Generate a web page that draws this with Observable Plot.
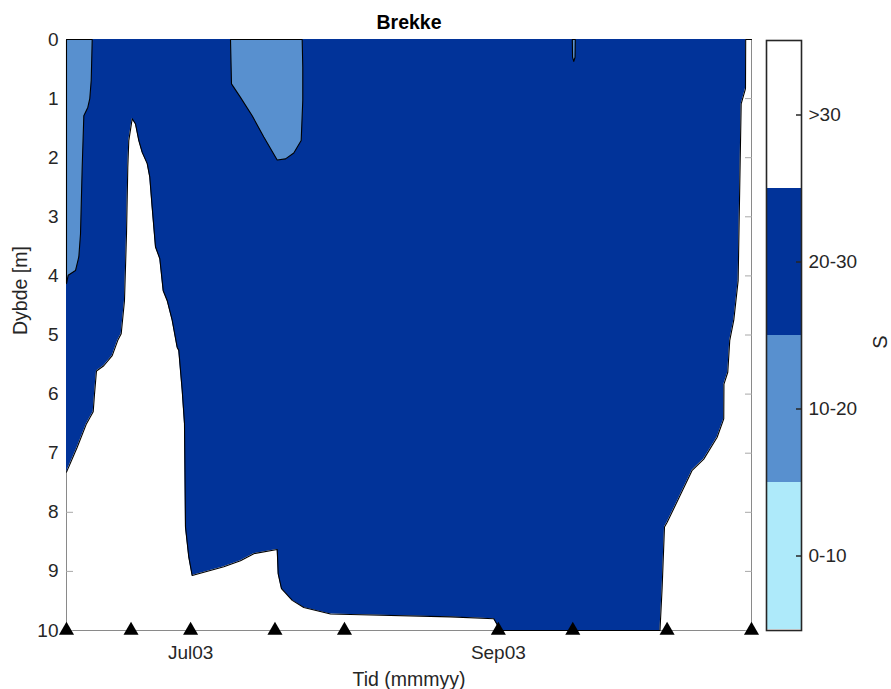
<!DOCTYPE html>
<html><head><meta charset="utf-8">
<script src="https://cdn.jsdelivr.net/npm/d3@7"></script>
<script src="https://cdn.jsdelivr.net/npm/@observablehq/plot@0.6"></script>
<style>
body{margin:0;background:#fff;overflow:hidden}
#wrap{position:relative;width:891px;height:689px}
#wrap svg{position:absolute;left:0;top:0;background:none}
</style></head><body><div id="wrap"></div>
<script>
// ---- data ----
const title = "Brekke";
const xLabel = "Tid (mmmyy)";
const yLabel = "Dybde [m]";
const cLabel = "S";
const startDate = "2003-06-06";          // day 0
const endDay = 138;                      // 2003-10-22
const sampleDays = [0, 13, 25, 42, 56, 87, 102, 121, 138];
const xTickDates = ["2003-07-01", "2003-09-01"];
const xTickLabels = ["Jul03", "Sep03"];
const depthTicks = [0, 1, 2, 3, 4, 5, 6, 7, 8, 9, 10];

// S = 30 isoline (lower edge of the 20-30 class), day vs depth
const iso30Day = [0, 2.16, 4.03, 5.38, 5.64, 6.04, 7.51, 9.21, 10.33, 11.02,
  11.68, 12.09, 12.35, 12.55, 13.24, 13.9, 14.57, 15.25, 16.26, 16.78,
  17.26, 17.93, 18.8, 19.48, 20.29, 21.29, 22.3, 22.62, 23.31, 23.77,
  23.97, 24.64, 25.32, 31.69, 35.05, 37.73, 42.45, 42.65, 43.31, 45.47,
  47.8, 53.18, 57.21, 77.36, 86.08, 87.43, 119.56, 120.0, 120.47, 121.01,
  126.05, 128.38, 131.08, 132.41, 132.45, 133.22, 133.62, 134.43, 135.31, 135.64,
  135.92, 136.79, 136.83, 138];
const iso30Depth = [7.32, 6.9, 6.5, 6.3, 6.0, 5.61, 5.52, 5.35, 5.09, 4.98,
  4.42, 3.29, 2.16, 1.71, 1.34, 1.43, 1.71, 1.91, 2.10, 2.33,
  2.84, 3.51, 3.71, 4.25, 4.42, 4.75, 5.21, 5.26, 5.94, 6.5,
  8.25, 8.76, 9.07, 8.92, 8.82, 8.70, 8.63, 9.04, 9.29, 9.49,
  9.61, 9.72, 9.73, 9.77, 9.80, 10, 10, 9.27, 8.25, 8.17,
  7.29, 7.1, 6.73, 6.42, 5.83, 5.63, 5.09, 4.75, 4.08, 2.44,
  1.09, 0.83, 0, 0];

// 10-20 class patches (closed outlines), day vs depth
const patchADay = [0, 5.18, 4.98, 4.69, 4.29, 3.49, 3.16, 2.82, 2.48, 1.81, 0.34, 0, 0];
const patchADepth = [0, 0, 0.69, 1.0, 1.15, 1.29, 2.16, 3.29, 3.68, 3.91, 3.99, 4.13, 0];
const patchBDay = [33.04, 33.24, 35.05, 37.41, 39.75, 42.45, 44.12, 45.79, 47.28, 47.6, 47.6, 47.48, 33.04];
const patchBDepth = [0, 0.75, 0.98, 1.29, 1.65, 2.04, 2.02, 1.92, 1.71, 1.03, 0.47, 0, 0];
const patchCDay = [101.9, 101.95, 102.2, 102.45, 102.5, 101.9];
const patchCDepth = [0, 0.3, 0.37, 0.3, 0, 0];

const classLabels = ["0-10", "10-20", "20-30", ">30"];
const classColors = ["#aeeafa", "#5890cf", "#013399", "#ffffff"];

// ---- helpers ----
const t0 = Date.parse(startDate);
const toDate = d => new Date(t0 + d * 864e5);
const pts = (days, depths) => days.map((d, i) => ({date: toDate(d), depth: depths[i]}));
const iso30 = pts(iso30Day, iso30Depth);
const patches = [pts(patchADay, patchADepth), pts(patchBDay, patchBDepth), pts(patchCDay, patchCDepth)];
const samples = sampleDays.map(d => ({date: toDate(d), depth: 10}));
const tickMap = new Map(xTickDates.map((s, i) => [Date.parse(s), xTickLabels[i]]));
const colorOf = Object.fromEntries(classLabels.map((l, i) => [l, classColors[i]]));

const FONT = "'Liberation Sans', Arial, Helvetica, sans-serif";
const FS = 19;
const INK = "#262626";

const main = Plot.plot({
  width: 891, height: 689,
  marginLeft: 66, marginRight: 140, marginTop: 39, marginBottom: 59,
  style: {fontFamily: FONT, fontSize: FS + "px", color: INK, background: "none"},
  x: {type: "utc", domain: [toDate(0), toDate(endDay)]},
  y: {domain: [0, 10], reverse: true},
  marks: [
    Plot.frame({stroke: "#8a8a8a"}),
    Plot.axisY(depthTicks, {anchor: "left", tickSize: -7, tickPadding: 15, tickFormat: d => String(d), stroke: "#a8a8a8", label: null}),
    Plot.axisY(depthTicks, {anchor: "right", tickSize: -7, tickFormat: () => "", stroke: "#a8a8a8", label: null}),
    Plot.axisX(xTickDates.map(s => new Date(s)), {tickSize: 0, tickPadding: 15, tickFormat: d => tickMap.get(+d), label: null}),
    Plot.areaY(iso30, {x: "date", y1: 0, y2: "depth", fill: colorOf["20-30"], curve: "linear"}),
    ...patches.map(p => Plot.line(p, {x: "date", y: "depth", fill: colorOf["10-20"], stroke: "black", strokeWidth: 1.1, curve: "linear"})),
    Plot.line(iso30, {x: "date", y: "depth", stroke: "black", strokeWidth: 1.1, curve: "linear"}),
    Plot.dot(samples, {x: "date", y: "depth", symbol: "triangle", r: 5.6, fill: "black", stroke: null}),
    Plot.text([title], {frameAnchor: "top", lineAnchor: "middle", dy: -17, fontWeight: "bold", fontSize: FS + 0.5, fill: "black"}),
    Plot.text([yLabel], {frameAnchor: "left", lineAnchor: "middle", dx: -46, rotate: -90, fontSize: FS + 0.5, fill: INK}),
    Plot.text([xLabel], {frameAnchor: "bottom", lineAnchor: "middle", dy: 49, fontSize: FS + 0.5, fill: INK})
  ]
});

const cbar = Plot.plot({
  width: 891, height: 689,
  marginLeft: 766, marginRight: 90, marginTop: 40, marginBottom: 59,
  style: {fontFamily: FONT, fontSize: FS + "px", color: INK, background: "none"},
  y: {type: "band", domain: classLabels.slice().reverse(), padding: 0},
  color: {type: "ordinal", domain: classLabels, range: classColors},
  marks: [
    Plot.cell(classLabels, {y: d => d, fill: d => d}),
    Plot.frame({stroke: INK, strokeWidth: 1.6}),
    Plot.axisY({anchor: "right", tickSize: -6, tickPadding: 13, stroke: INK, strokeWidth: 1.5, label: null}),
    Plot.text([cLabel], {frameAnchor: "right", lineAnchor: "middle", dx: 79, rotate: -90, fontSize: FS + 1, fill: INK})
  ]
});

document.getElementById("wrap").append(main, cbar);
</script></body></html>
